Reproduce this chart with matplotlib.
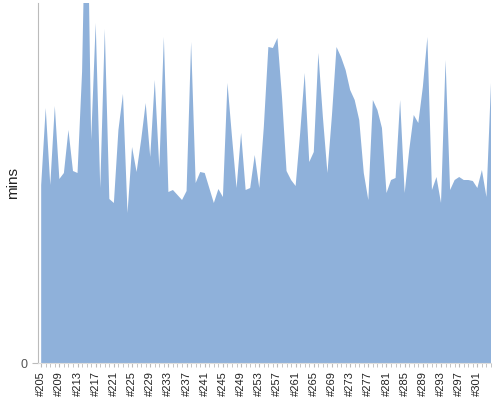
import numpy as np
import matplotlib.pyplot as plt

plt.rcParams['font.family'] = ['Liberation Sans', 'DejaVu Sans']

# run numbers #205 .. #304
runs = ['#%d' % n for n in range(205, 305)]
mins = [178, 255, 178, 257, 184, 190, 233, 192, 190, 291,
        520, 223, 340, 175, 334, 164, 160, 233, 269, 150,
        216, 191, 223, 260, 206, 283, 195, 326, 171, 173,
        168, 163, 172, 321, 180, 191, 190, 175, 160, 174,
        166, 280, 226, 175, 230, 173, 175, 208, 175, 236,
        316, 315, 325, 266, 192, 183, 177, 230, 290, 201,
        211, 310, 246, 190, 248, 316, 306, 293, 273, 263,
        243, 190, 163, 263, 253, 235, 170, 183, 185, 263,
        170, 213, 248, 240, 276, 326, 173, 186, 160, 303,
        173, 183, 186, 183, 183, 182, 175, 193, 166, 280]

x = np.arange(len(runs))

fig = plt.figure(figsize=(5, 4), dpi=100)
ax = fig.add_axes([0.076, 0.0925, 0.906, 0.9])
ax.fill_between(x, 0, mins, color='#8FB1DA', linewidth=0)

ax.set_xlim(-0.7, len(runs) - 1)
ax.set_ylim(0, 360)

ax.set_xticks(x[::4])
ax.set_xticklabels(runs[::4], rotation=90, fontsize=8, color='#222222')
ax.set_xticks(x, minor=True)
ax.tick_params(axis='x', which='both', length=3, color='#bbbbbb', pad=3)
ax.set_yticks([0])
ax.set_yticklabels(['0'], fontsize=9, color='#555555')
ax.tick_params(axis='y', length=4, color='#bbbbbb')
ax.set_ylabel('mins', fontsize=11, color='#222222')
ax.yaxis.set_label_coords(-0.04, 0.5)

for s in ['top', 'right']:
    ax.spines[s].set_visible(False)
ax.spines['left'].set_color('#bbbbbb')
ax.spines['bottom'].set_color('#dddddd')

fig.savefig('out.png')
